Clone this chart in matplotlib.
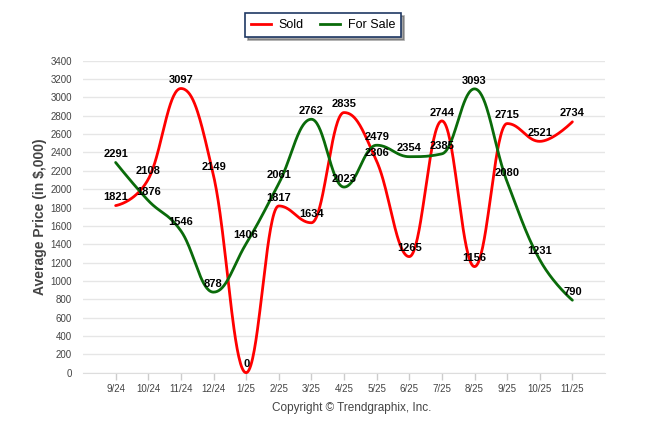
import numpy as np
import matplotlib
matplotlib.use("Agg")
import matplotlib.pyplot as plt
from matplotlib.lines import Line2D

plt.rcParams['font.family'] = ['Liberation Sans', 'DejaVu Sans']

# chart data
months = ["9/24", "10/24", "11/24", "12/24", "1/25", "2/25", "3/25", "4/25",
          "5/25", "6/25", "7/25", "8/25", "9/25", "10/25", "11/25"]
sold = [1821, 2108, 3097, 2149, 0, 1817, 1634, 2835, 2306, 1265, 2744, 1156, 2715, 2521, 2734]
for_sale = [2291, 1876, 1546, 878, 1406, 2061, 2762, 2023, 2479, 2354, 2385, 3093, 2080, 1231, 790]

SOLD_COLOR = "#ff0000"
SALE_COLOR = "#0a6b0a"


# Highcharts-like spline: cubic bezier between points with smoothed control points
def spline(xs, ys, smoothing=1.5, n=40):
    xs = np.asarray(xs, float)
    ys = np.asarray(ys, float)
    m = len(xs)
    left = [(xs[i], ys[i]) for i in range(m)]
    right = [(xs[i], ys[i]) for i in range(m)]
    denom = smoothing + 1
    for i in range(1, m - 1):
        px, py = xs[i], ys[i]
        lx, ly = xs[i - 1], ys[i - 1]
        nx, ny = xs[i + 1], ys[i + 1]
        lcx = (smoothing * px + lx) / denom
        lcy = (smoothing * py + ly) / denom
        rcx = (smoothing * px + nx) / denom
        rcy = (smoothing * py + ny) / denom
        corr = ((rcy - lcy) * (rcx - px)) / (rcx - lcx) + py - rcy
        lcy += corr
        rcy += corr
        if lcy > ly and lcy > py:
            lcy = max(ly, py)
            rcy = 2 * py - lcy
        elif lcy < ly and lcy < py:
            lcy = min(ly, py)
            rcy = 2 * py - lcy
        if rcy > ny and rcy > py:
            rcy = max(ny, py)
            lcy = 2 * py - rcy
        elif rcy < ny and rcy < py:
            rcy = min(ny, py)
            lcy = 2 * py - rcy
        left[i] = (lcx, lcy)
        right[i] = (rcx, rcy)
    t = np.linspace(0, 1, n)
    out_x, out_y = [], []
    for i in range(1, m):
        p0 = (xs[i - 1], ys[i - 1])
        p1 = right[i - 1]
        p2 = left[i]
        p3 = (xs[i], ys[i])
        bx = (1 - t) ** 3 * p0[0] + 3 * (1 - t) ** 2 * t * p1[0] + 3 * (1 - t) * t ** 2 * p2[0] + t ** 3 * p3[0]
        by = (1 - t) ** 3 * p0[1] + 3 * (1 - t) ** 2 * t * p1[1] + 3 * (1 - t) * t ** 2 * p2[1] + t ** 3 * p3[1]
        out_x.extend(bx)
        out_y.extend(by)
    return np.array(out_x), np.array(out_y)


fig = plt.figure(figsize=(6.46, 4.34), dpi=100)
ax = fig.add_axes([83 / 646, 1 - 372.7 / 434, (605 - 83) / 646, (372.7 - 60.7) / 434])

x = np.arange(len(months))
for vals, col in [(sold, SOLD_COLOR), (for_sale, SALE_COLOR)]:
    sx, sy = spline(x, vals)
    ax.plot(sx, sy, color=col, lw=2, solid_capstyle='round', clip_on=False, zorder=3)

for vals in [sold, for_sale]:
    for xi, v in zip(x, vals):
        ax.annotate(str(v), (xi, v), xytext=(0, 6), textcoords='offset points',
                    ha='center', va='center', fontsize=8, fontweight='bold',
                    color='black', zorder=5)

ax.set_xlim(-1, len(months))
ax.set_ylim(0, 3400)
ax.set_yticks(np.arange(0, 3401, 200))
ax.set_xticks(x)
ax.set_xticklabels(months)
ax.tick_params(axis='x', labelsize=7, colors='#cccccc', labelcolor='#444444',
               length=5, width=1, pad=3)
ax.tick_params(axis='y', labelsize=7, length=0, labelcolor='#444444', pad=8)
ax.grid(axis='y', color='#e6e6e6', lw=1)
ax.set_axisbelow(True)
for s in ['top', 'right', 'left']:
    ax.spines[s].set_visible(False)
ax.spines['bottom'].set_color('#dddddd')

ax.set_ylabel("Average Price (in $,000)", fontsize=10, fontweight='bold',
              color='#444444', labelpad=2)

handles = [Line2D([], [], color=SOLD_COLOR, lw=2), Line2D([], [], color=SALE_COLOR, lw=2)]
leg = fig.legend(handles, ["Sold", "For Sale"], loc='center',
                 bbox_to_anchor=(323 / 646, 1 - 25 / 434), ncol=2, frameon=True,
                 fancybox=False, shadow=True, fontsize=9, handlelength=1.6,
                 handletextpad=0.6, columnspacing=1.3, borderpad=0.5)
leg.get_frame().set_edgecolor('#1f3864')
leg.get_frame().set_linewidth(1.2)

fig.text(352 / 646, 1 - 408 / 434, "Copyright \u00a9 Trendgraphix, Inc.",
         ha='center', va='center', fontsize=8.5, color='#444444')

fig.savefig("out.png", dpi=100)
